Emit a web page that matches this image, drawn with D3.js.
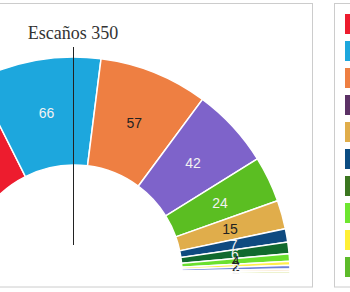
<!DOCTYPE html>
<html><head><meta charset="utf-8">
<script src="https://cdn.jsdelivr.net/npm/d3@7"></script>
<style>html,body{margin:0;padding:0;background:#fff;overflow:hidden}</style>
</head><body>
<svg id="c" width="350" height="292"></svg>
<script>
const parties = ["PSOE","PP","Cs","UP","Vox","ERC","JxCat","PNV","EH Bildu","CC","NA+","Compromís","PRC"];
const seats = [123,66,57,42,24,15,7,6,4,2,2,1,1];
const colors = ["#ED1C2E","#1DA7DD","#EE7F42","#7E63CA","#5BBE22","#E0AD4B","#0E4A80","#116A2E","#6BE02E","#FFEF4A","#6F83D8","#F29A3A","#B5CF3C"];
const labelColors = ["#fff","#f2f2f2","#222","#f2f2f2","#f2f2f2","#222","#f2f2f2","#f2f2f2","#222","#222","#f2f2f2","#222","#222"];
const legendColors = ["#ED1C2E","#1DA7DD","#EE7F42","#5C3266","#E0AD4A","#0B4C82","#3B7620","#6EE630","#FFEF35","#5DBB2A"];
const title = "Escaños 350";

const svg = d3.select("#c");
// panels
svg.append("rect").attr("x",-20).attr("y",3.5).attr("width",332.5).attr("height",283.5)
  .attr("fill","#fff").attr("stroke","#ccc").attr("stroke-width",1);
svg.append("rect").attr("x",334.5).attr("y",3.5).attr("width",60).attr("height",283.5)
  .attr("fill","#fff").attr("stroke","#ccc").attr("stroke-width",1);

const cx = 74, cy = 273, rOut = 216, rIn = 108, rLab = 162;
const data = parties.map((p,i)=>({party:p, seats:seats[i], color:colors[i], lc:labelColors[i]}));
const pie = d3.pie().value(d=>d.seats).sort(null).startAngle(-Math.PI/2).endAngle(Math.PI/2);
const arc = d3.arc().innerRadius(rIn).outerRadius(rOut);
const labelArc = d3.arc().innerRadius(rLab).outerRadius(rLab);
const g = svg.append("g").attr("transform",`translate(${cx},${cy})`);
const arcs = pie(data);
g.selectAll("path").data(arcs).join("path")
  .attr("d",arc).attr("fill",d=>d.data.color).attr("stroke","#fff").attr("stroke-width",1.5);
g.selectAll("text").data(arcs.filter(d=>d.data.seats>1)).join("text")
  .attr("transform",d=>`translate(${labelArc.centroid(d)})`)
  .attr("text-anchor","middle").attr("dy","0.35em")
  .attr("font-family","Liberation Sans, Arial, sans-serif").attr("font-size",14)
  .attr("fill",d=>d.data.lc).text(d=>d.data.seats);

// majority line
svg.append("line").attr("x1",cx-0.5).attr("x2",cx-0.5).attr("y1",47).attr("y2",245)
  .attr("stroke","#222").attr("stroke-width",1);
svg.append("text").attr("x",cx-1).attr("y",39).attr("text-anchor","middle")
  .attr("font-family","Liberation Serif, Times New Roman, serif").attr("font-size",18)
  .attr("fill","#333").text(title);

// legend swatches
svg.selectAll("rect.sw").data(legendColors).join("rect").attr("class","sw")
  .attr("x",345).attr("y",(d,i)=>14+27*i).attr("width",20).attr("height",20).attr("fill",d=>d);
</script>
</body></html>
